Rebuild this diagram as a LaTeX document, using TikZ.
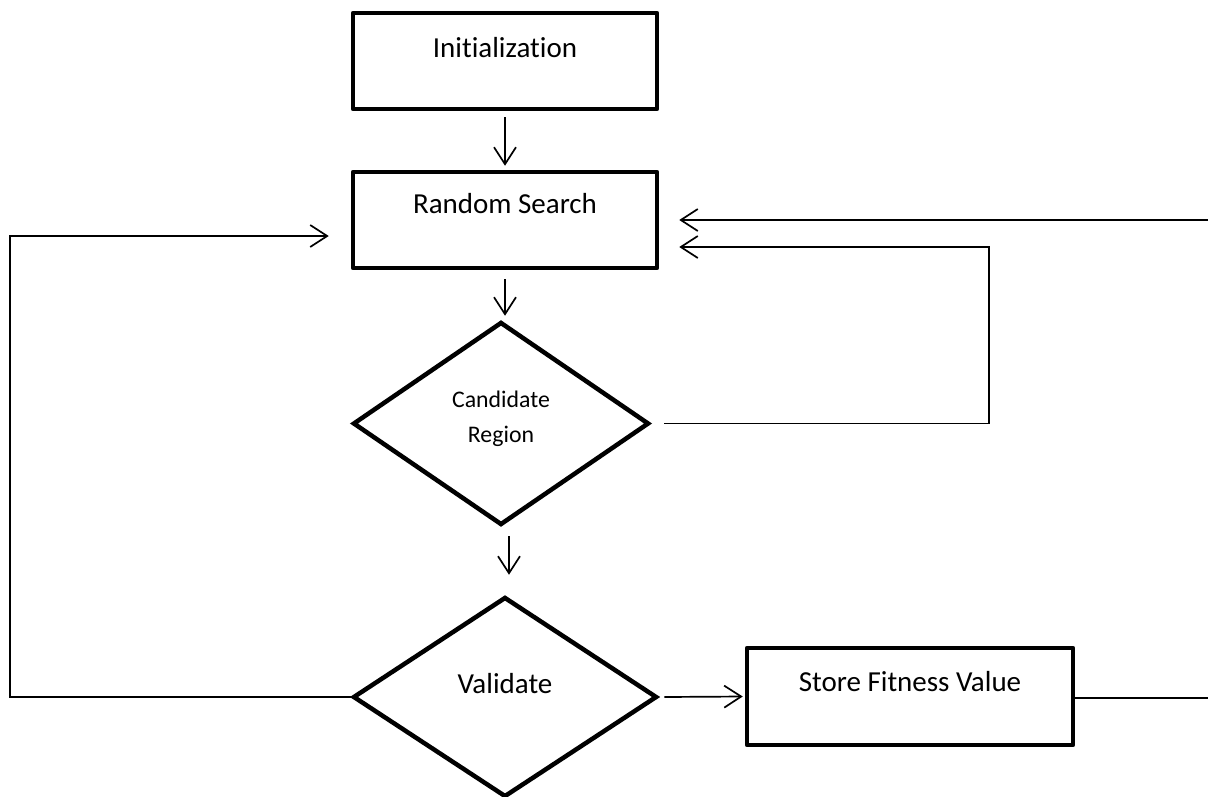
\documentclass[tikz,border=0pt]{standalone}
\usepackage{fontspec}
\setmainfont{Carlito}[Ligatures={NoCommon}]
\usetikzlibrary{shapes.geometric,arrows.meta,calc}

\tikzset{
  stepbox/.style={draw, rectangle, line width=4.5pt, line join=round, inner sep=0pt},
  decision/.style={draw, diamond, line width=4.5pt, inner sep=0pt},
  txt/.style={inner sep=0pt, anchor=base, font=\fontsize{29}{35}\selectfont},
  smalltxt/.style={inner sep=0pt, anchor=base, font=\fontsize{23.8}{35}\selectfont},
  wire/.style={line width=1.7pt},
  conn/.style={wire, -{Straight Barb[length=17pt,width=22pt,line width=1.7pt]}},
}

\begin{document}
\begin{tikzpicture}[x=1pt,y=-1pt]
  \path[use as bounding box, fill=white] (0,0) rectangle (1208,796);

  % process boxes and decisions
  \node[stepbox, minimum width=304pt, minimum height=96pt] (init) at (505,61) {};
  \node[stepbox, minimum width=304pt, minimum height=96pt] (rs) at (505,220) {};
  \node[decision, minimum width=296pt, minimum height=203pt] (cand) at (501,423.5) {};
  \node[decision, minimum width=304pt, minimum height=200pt] (val) at (505,697) {};
  \node[stepbox, minimum width=326pt, minimum height=97pt] (store) at (910,696.5) {};

  % labels
  \node[txt] (initT) at (505,57) {Initialization};
  \node[txt] (rsT) at (505,213) {Random Search};
  \node[smalltxt] (candT1) at (501,407) {Candidate};
  \node[smalltxt] (candT2) at (501,442) {Region};
  \node[txt] (valT) at (505,693) {Validate};
  \node[txt] (storeT) at (910,691) {Store Fitness Value};

  % loop corner points
  \coordinate (lc) at (10,236);
  \coordinate (rt) at (1208,220);
  \coordinate (rb) at (989,247);
  \coordinate (se) at (1208,698);

  % main flow
  \draw[conn] ([yshift=-6pt]init.south) -- ([yshift=4pt]rs.north);
  \draw[conn] ([yshift=-9pt]rs.south) -- ([yshift=4pt]rs.south |- cand.north);
  \draw[conn] ([xshift=8pt,yshift=-9pt]cand.south) -- ([xshift=4pt,yshift=20pt]val.north);
  \draw[conn] ([xshift=5pt]val.east) -- ([xshift=-2pt]store.west);

  % feedback loops
  \draw[conn] (val.west) -| (lc) -- ($(lc -| rs.west)+(-22,0)$);
  \draw[conn] (rt) -- ($(rt -| rs.east)+(20,0)$);
  \draw[conn] ($(cand.east)+(13,0)$) -| (rb) -- ($(rb -| rs.east)+(20,0)$);
  \draw[wire] (store.east |- se) -- (se);
\end{tikzpicture}
\end{document}
